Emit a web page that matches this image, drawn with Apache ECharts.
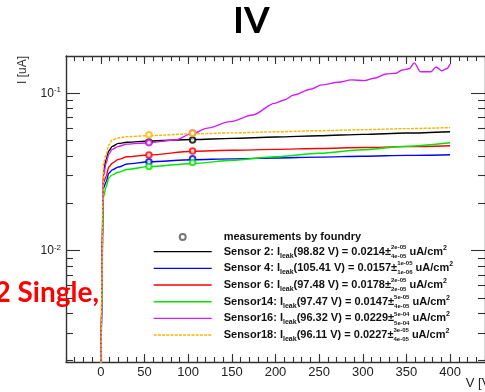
<!DOCTYPE html>
<html><head><meta charset="utf-8">
<script src="https://cdn.jsdelivr.net/npm/echarts@6/dist/echarts.min.js"></script>
<style>html,body{margin:0;padding:0;background:#fff;}#c{width:485px;height:392px;}</style>
</head><body><div id="c"></div>
<script>
// ---------------- data ----------------
const chartTitle = 'IV';
const sideNote = '2 Single,';
const xAxisName = 'V [V]';
const yAxisName = 'I [uA]';
const xTickLabels = [0, 50, 100, 150, 200, 250, 300, 350, 400];
const xMinorTicks = [-40,-30,-20,-10,0,10,20,30,40,50,60,70,80,90,100,110,120,130,140,150,160,170,180,190,200,210,220,230,240,250,260,270,280,290,300,310,320,330,340,350,360,370,380,390,400,410,420,430,440];
const yMajorTicks = [0.01, 0.1];
const yMinorTicks = [0.002,0.003,0.004,0.005,0.006,0.007,0.008,0.009,0.02,0.03,0.04,0.05,0.06,0.07,0.08,0.09];

const sensorNames = ['Sensor 2', 'Sensor 4', 'Sensor 6', 'Sensor14', 'Sensor16', 'Sensor18'];
const measName = 'measurements by foundry';

const curveV   = [0, 1, 2, 3, 6, 9, 13, 20, 30, 55, 105, 150, 200, 250, 300, 350, 400];
const sensor2I  = [0.0018, 0.005, 0.018, 0.032, 0.038, 0.043, 0.046, 0.048, 0.0488, 0.0497, 0.0508, 0.0517, 0.0527, 0.0537, 0.0548, 0.0559, 0.0570];
const sensor4I  = [0.0018, 0.0045, 0.014, 0.025, 0.0274, 0.031, 0.0326, 0.034, 0.0355, 0.0367, 0.0378, 0.0383, 0.0388, 0.0393, 0.0398, 0.0403, 0.0407];
const sensor6I  = [0.0018, 0.0048, 0.015, 0.027, 0.0296, 0.034, 0.0359, 0.038, 0.0395, 0.0405, 0.0428, 0.0434, 0.0440, 0.0446, 0.0452, 0.0458, 0.0464];
const sensor14I = [0.0018, 0.004, 0.012, 0.022, 0.0255, 0.029, 0.0303, 0.0315, 0.0328, 0.0342, 0.0358, 0.0375, 0.0395, 0.0416, 0.0438, 0.0461, 0.0485];
const sensor18I = [0.0018, 0.006, 0.020, 0.036, 0.041, 0.047, 0.0505, 0.052, 0.053, 0.0538, 0.0552, 0.0560, 0.0569, 0.0578, 0.0587, 0.0596, 0.0605];
const sensor16V = [0, 1, 2, 3, 6, 9, 13, 20, 30, 55, 85, 105, 122, 148, 174, 199, 210, 221, 240, 253, 272, 287, 302, 313, 327, 338, 345, 353, 359, 366, 378, 384, 390, 396, 400];
const sensor16I = [0.0018, 0.005, 0.016, 0.030, 0.036, 0.041, 0.044, 0.046, 0.0475, 0.0485, 0.0505, 0.0556, 0.060, 0.066, 0.0728, 0.0863, 0.0906, 0.0975, 0.106, 0.113, 0.1175, 0.1216, 0.1203, 0.1245, 0.1327, 0.134, 0.1406, 0.143, 0.156, 0.137, 0.137, 0.147, 0.139, 0.143, 0.153];

const measV = [55, 105];
const meas2I  = [0.0490, 0.0505];
const meas4I  = [0.0367, 0.0384];
const meas6I  = [0.0405, 0.0430];
const meas14I = [0.0342, 0.0363];
const meas16I = [0.0485, 0.0560];
const meas18I = [0.0544, 0.0557];

const leakV   = ['98.82', '105.41', '97.48', '97.47', '96.32', '96.11'];
const leakI   = ['0.0214', '0.0157', '0.0178', '0.0147', '0.0229', '0.0227'];
const errUp   = ['2e-05', '1e-05', '2e-05', '5e-05', '5e-04', '3e-05'];
const errDown = ['4e-05', '1e-06', '2e-05', '4e-05', '5e-04', '4e-05'];

// ---------------- styles ----------------
const FONT = '"Liberation Sans", Arial, sans-serif';
const AX = '#333';
const colors = ['#000000', '#0000ff', '#ff0000', '#00e600', '#d41cf8', '#ffb400'];
const sensorVs = [curveV, curveV, curveV, curveV, sensor16V, curveV];
const sensorIs = [sensor2I, sensor4I, sensor6I, sensor14I, sensor16I, sensor18I];
const measIs = [meas2I, meas4I, meas6I, meas14I, meas16I, meas18I];

const legendTexts = {};
legendTexts[measName] = '{g| }{t|' + measName + '}';
sensorNames.forEach((n, i) => {
  legendTexts[n] = '{g| }{t|' + n + ': I}{s|leak}{t|(' + leakV[i] + ' V) = ' + leakI[i] + '±}{eu|' + errUp[i] + '}{el|' + errDown[i] + '}{t| uA/cm}{p|2}';
});

function xAxisDef(pos, ticks, len, showLabel, showLine) {
  return {
    type: 'value', position: pos, min: -40, max: 440,
    axisLine: { show: showLine, onZero: false, lineStyle: { color: AX, width: 1.4 } },
    axisTick: { show: true, inside: true, length: len, customValues: ticks, lineStyle: { color: AX, width: 1.1 } },
    axisLabel: { show: showLabel, customValues: ticks, margin: 4, fontSize: 13, color: '#222', fontFamily: FONT },
    splitLine: { show: false }
  };
}
function yAxisDef(pos, ticks, len, showLabel, showLine) {
  return {
    type: 'log', logBase: 10, position: pos, min: 0.00196, max: 0.1725,
    axisLine: { show: showLine, onZero: false, lineStyle: { color: AX, width: 1.4 } },
    axisTick: { show: true, inside: true, length: len, customValues: ticks, lineStyle: { color: AX, width: 1.1 } },
    axisLabel: {
      show: showLabel, customValues: ticks, margin: 5, color: '#222', fontFamily: FONT,
      formatter: v => '{b|10}{e|' + Math.round(Math.log10(v)) + '}',
      rich: {
        b: { fontSize: 12, fontFamily: FONT, color: '#222', lineHeight: 14 },
        e: { fontSize: 8, fontFamily: FONT, color: '#222', lineHeight: 8, verticalAlign: 'top' }
      }
    },
    splitLine: { show: false }, minorTick: { show: false }
  };
}

const series = sensorNames.map((n, i) => ({
  name: n, type: 'line', xAxisIndex: 0, yAxisIndex: 0,
  data: sensorVs[i].map((v, j) => [v, sensorIs[i][j]]),
  symbol: 'none', smooth: 0.3, smoothMonotone: 'x', clip: true,
  lineStyle: { color: colors[i], width: 1.4, type: i === 5 ? [3, 1.2] : 'solid' },
  itemStyle: { color: colors[i] }
}));
const measData = [];
sensorNames.forEach((n, i) => measV.forEach((v, j) => measData.push({
  value: [v, measIs[i][j]], itemStyle: { color: colors[i], borderColor: colors[i] }
})));
series.unshift({
  name: measName, type: 'scatter', xAxisIndex: 0, yAxisIndex: 0, z: 5,
  symbol: 'emptyCircle', symbolSize: 5.5, data: measData,
  itemStyle: { color: '#555', borderColor: '#555', borderWidth: 1.1 }
});

const legendData = [{ name: measName }].concat(sensorNames.map((n, i) => ({
  name: n, itemStyle: { opacity: 0, color: 'transparent', borderColor: 'transparent', borderWidth: 0 },
  lineStyle: { color: colors[i], width: 1.4, type: i === 5 ? [3, 1.2] : 'solid' }
})));

const chart = echarts.init(document.getElementById('c'), null, { renderer: 'canvas', width: 485, height: 392 });
chart.setOption({
  animation: false,
  backgroundColor: '#fff',
  title: {
    text: chartTitle, left: 233, top: 3, padding: 0,
    textStyle: { fontFamily: 'Lato, "Open Sans", sans-serif', fontWeight: 'bold', fontSize: 37, color: '#000' }
  },
  grid: { left: 66, top: 56, right: -7.4, bottom: 30, containLabel: false },
  xAxis: [
    xAxisDef('bottom', xTickLabels, 8, true, true),
    xAxisDef('bottom', xMinorTicks, 5, false, false),
    xAxisDef('top', xTickLabels, 8, false, true),
    xAxisDef('top', xMinorTicks, 5, false, false)
  ],
  yAxis: [
    yAxisDef('left', yMajorTicks, 14, true, true),
    yAxisDef('left', yMinorTicks, 7, false, false),
    yAxisDef('right', yMajorTicks, 14, false, true),
    yAxisDef('right', yMinorTicks, 7, false, false)
  ],
  legend: {
    orient: 'vertical', left: 153, top: 231.5, padding: 0,
    itemWidth: 58, itemHeight: 6, itemGap: 1.67, selectedMode: false,
    data: legendData,
    formatter: name => legendTexts[name],
    textStyle: {
      fontFamily: FONT, fontSize: 11, fontWeight: 'bold', color: '#111',
      rich: {
        g: { width: 7, fontSize: 11, lineHeight: 15 },
        t: { fontFamily: FONT, fontSize: 11, fontWeight: 'bold', color: '#111', lineHeight: 15 },
        s: { fontFamily: FONT, fontSize: 7, fontWeight: 'bold', color: '#111', lineHeight: 8, verticalAlign: 'bottom' },
        eu: { fontFamily: FONT, fontSize: 6, fontWeight: 'bold', color: '#111', lineHeight: 7, verticalAlign: 'top', width: 0 },
        el: { fontFamily: FONT, fontSize: 6, fontWeight: 'bold', color: '#111', lineHeight: 7, verticalAlign: 'bottom' },
        p: { fontFamily: FONT, fontSize: 7, fontWeight: 'bold', color: '#111', lineHeight: 8, verticalAlign: 'top' }
      }
    }
  },
  graphic: [
    { type: 'text', x: 23, y: 70, rotation: Math.PI / 2, z: 10,
      style: { text: yAxisName, fontFamily: FONT, fontSize: 12, fill: '#333', align: 'center', verticalAlign: 'middle' } },
    { type: 'text', x: 494, y: 383, z: 10,
      style: { text: xAxisName, fontFamily: FONT, fontSize: 13, fill: '#222', align: 'right', verticalAlign: 'middle' } },
    { type: 'text', x: 99, y: 293, z: 20,
      style: { text: sideNote, fontFamily: 'Lato, "Open Sans", sans-serif', fontWeight: 'bold', fontSize: 28, fill: '#ff0000', align: 'right', verticalAlign: 'middle' } }
  ],
  series: series
});
</script></body></html>
